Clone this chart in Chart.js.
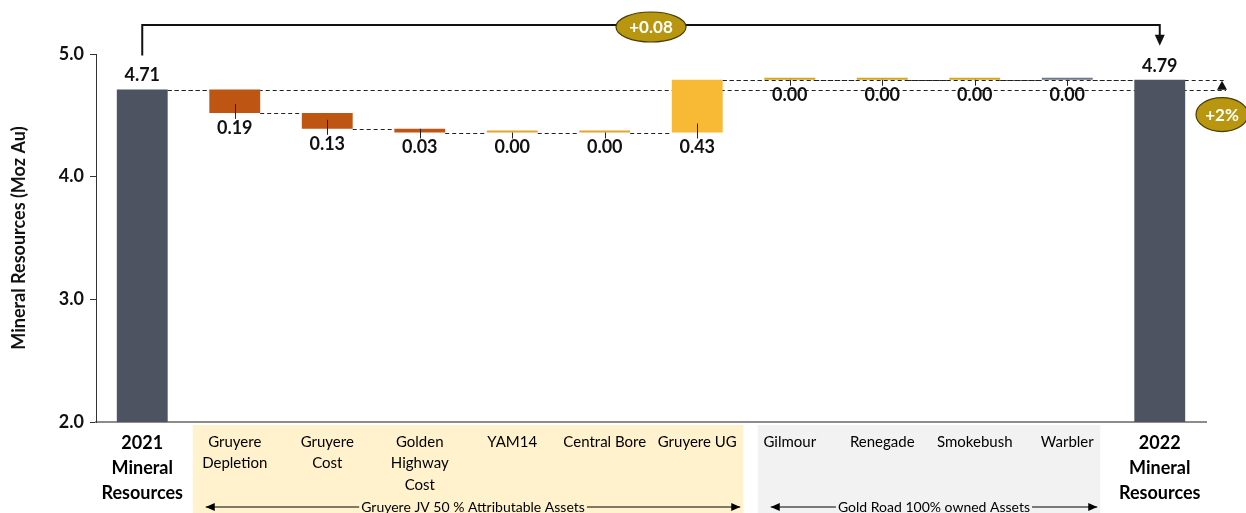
<!DOCTYPE html>
<html>
<head>
<meta charset="utf-8">
<script src="https://cdn.jsdelivr.net/npm/chart.js@4/dist/chart.umd.min.js"></script>
<style>
body { margin: 0; background: #fff; }
#wrap { width: 1246px; height: 513px; }
</style>
</head>
<body>
<div id="wrap"><canvas id="grafico"></canvas></div>
<script>
const categorias = [["2021", "Mineral", "Resources"], ["Gruyere", "Depletion"], ["Gruyere", "Cost"], ["Golden", "Highway", "Cost"], ["YAM14"], ["Central Bore"], ["Gruyere UG"], ["Gilmour"], ["Renegade"], ["Smokebush"], ["Warbler"], ["2022", "Mineral", "Resources"]];
const inicio = 4.71;
const cambios = [-0.19, -0.13, -0.03, 0.00, 0.00, 0.43, 0.00, 0.00, 0.00, 0.00];
const final = 4.79;
const ticksY = [2.0, 3.0, 4.0, 5.0];
const textoDiferencia = "+0.08";
const textoPorcentaje = "+2%";
const grupos = [
    { texto: "Gruyere JV 50 % Attributable Assets", desde: 1, hasta: 6 },
    { texto: "Gold Road 100% owned Assets", desde: 7, hasta: 10 }
];

const FUENTE = "Lato, 'Open Sans', sans-serif";
const colores = ['#4D5360', '#BF5513', '#BF5513', '#BF5513', '#E3A52A', '#E3A52A', '#F8B935', '#D4A419', '#D4A419', '#D4A419', '#6C7686', '#4D5360'];

// barras flotantes [bajo, alto] a partir de los cambios
const barras = [[2.0, inicio]];
const niveles = [inicio];
let acum = inicio;
cambios.forEach(c => {
    const nuevo = +(acum + c).toFixed(2);
    barras.push([Math.min(acum, nuevo), Math.max(acum, nuevo)]);
    niveles.push(nuevo);
    acum = nuevo;
});
barras.push([2.0, final]);
niveles.push(final);

function flecha(ctx, x, y, dir, w, h) {
    ctx.beginPath();
    if (dir === 'up') { ctx.moveTo(x, y); ctx.lineTo(x - w, y + h); ctx.lineTo(x + w, y + h); }
    if (dir === 'down') { ctx.moveTo(x, y); ctx.lineTo(x - w, y - h); ctx.lineTo(x + w, y - h); }
    if (dir === 'left') { ctx.moveTo(x, y); ctx.lineTo(x + h, y - w); ctx.lineTo(x + h, y + w); }
    if (dir === 'right') { ctx.moveTo(x, y); ctx.lineTo(x - h, y - w); ctx.lineTo(x - h, y + w); }
    ctx.closePath();
    ctx.fill();
}

function burbuja(ctx, x, y, rx, ry, texto) {
    ctx.save();
    ctx.beginPath();
    ctx.ellipse(x, y, rx, ry, 0, 0, Math.PI * 2);
    ctx.fillStyle = '#B8960F';
    ctx.fill();
    ctx.lineWidth = 1.2;
    ctx.strokeStyle = '#4a3c00';
    ctx.stroke();
    ctx.fillStyle = '#fff';
    ctx.font = "bold 17px " + FUENTE;
    ctx.textAlign = 'center';
    ctx.textBaseline = 'middle';
    ctx.fillText(texto, x, y + 1);
    ctx.restore();
}

const extras = {
    id: 'extras',
    beforeDraw(chart) {
        const ctx = chart.ctx;
        const x = chart.scales.x;
        const area = chart.chartArea;
        const fondos = ['#FFF2CC', '#F2F2F2'];
        const margenes = [[42, 46], [32, 33]];
        grupos.forEach((g, k) => {
            const x0 = x.getPixelForValue(g.desde) - margenes[k][0];
            const x1 = x.getPixelForValue(g.hasta) + margenes[k][1];
            ctx.fillStyle = fondos[k];
            ctx.fillRect(x0, area.bottom + 3, x1 - x0, chart.height - area.bottom - 3);
            // flecha doble con texto
            const yl = chart.height - 6;
            const a0 = x0 + 13, a1 = x1 - 3;
            ctx.save();
            ctx.font = "14px " + FUENTE;
            ctx.fillStyle = '#000';
            ctx.strokeStyle = '#000';
            ctx.lineWidth = 1.2;
            const tw = ctx.measureText(g.texto).width;
            const cx = (a0 + a1) / 2;
            ctx.beginPath();
            ctx.moveTo(a0, yl); ctx.lineTo(cx - tw / 2 - 2, yl);
            ctx.moveTo(cx + tw / 2 + 2, yl); ctx.lineTo(a1, yl);
            ctx.stroke();
            flecha(ctx, a0, yl, 'left', 4, 9);
            flecha(ctx, a1, yl, 'right', 4, 9);
            ctx.textAlign = 'center';
            ctx.textBaseline = 'middle';
            ctx.fillText(g.texto, cx, yl);
            ctx.restore();
        });
    },
    beforeDatasetsDraw(chart) {
        const ctx = chart.ctx;
        const y = chart.scales.y;
        const meta = chart.getDatasetMeta(0);
        const area = chart.chartArea;
        ctx.save();
        ctx.strokeStyle = '#222';
        ctx.lineWidth = 1;
        ctx.setLineDash([4, 3]);
        ctx.beginPath();
        for (let i = 0; i < categorias.length - 1; i++) {
            const yy = Math.round(y.getPixelForValue(niveles[i])) + 0.5;
            ctx.moveTo(meta.data[i].x + meta.data[i].width / 2, yy);
            ctx.lineTo(meta.data[i + 1].x - meta.data[i + 1].width / 2, yy);
        }
        // lineas largas hacia la derecha
        const yIni = Math.round(y.getPixelForValue(inicio)) + 0.5;
        const yFin = Math.round(y.getPixelForValue(final)) + 0.5;
        ctx.moveTo(meta.data[0].x + meta.data[0].width / 2, yIni);
        ctx.lineTo(area.right + 20, yIni);
        ctx.moveTo(meta.data[6].x + meta.data[6].width / 2, yFin);
        ctx.lineTo(area.right + 20, yFin);
        ctx.stroke();
        ctx.restore();
    },
    afterDatasetsDraw(chart) {
        const ctx = chart.ctx;
        const y = chart.scales.y;
        const meta = chart.getDatasetMeta(0);
        const area = chart.chartArea;
        const ultimo = categorias.length - 1;
        ctx.save();
        ctx.font = "bold 18px " + FUENTE;
        ctx.fillStyle = '#111';
        ctx.textAlign = 'center';
        barras.forEach((b, i) => {
            const cx = meta.data[i].x;
            if (i === 0 || i === ultimo) {
                ctx.textBaseline = 'bottom';
                ctx.fillText(b[1].toFixed(2), cx, y.getPixelForValue(b[1]) - 5);
            } else {
                const fondo = y.getPixelForValue(b[0]);
                const tope = y.getPixelForValue(b[1]);
                ctx.strokeStyle = '#222';
                ctx.lineWidth = 1;
                ctx.beginPath();
                ctx.moveTo(Math.round(cx) + 0.5, Math.max(tope, fondo - 9));
                ctx.lineTo(Math.round(cx) + 0.5, fondo + 6);
                ctx.stroke();
                ctx.textBaseline = 'top';
                ctx.fillText(Math.abs(cambios[i - 1]).toFixed(2), cx, fondo + 6);
            }
        });
        ctx.restore();

        // corchete superior
        const x0 = meta.data[0].x, x1 = meta.data[ultimo].x;
        const yTop = area.top - 29;
        ctx.save();
        ctx.strokeStyle = '#111';
        ctx.fillStyle = '#111';
        ctx.lineWidth = 2;
        ctx.beginPath();
        ctx.moveTo(x0, y.getPixelForValue(inicio) - 34);
        ctx.lineTo(x0, yTop);
        ctx.lineTo(x1, yTop);
        ctx.lineTo(x1, y.getPixelForValue(final) - 44);
        ctx.stroke();
        flecha(ctx, x1, y.getPixelForValue(final) - 34, 'down', 5, 11);

        // flecha derecha
        const xr = area.right + 16;
        ctx.lineWidth = 1;
        flecha(ctx, xr, y.getPixelForValue(final) + 1, 'up', 5, 9);
        ctx.restore();

        burbuja(ctx, (x0 + x1) / 2, yTop + 2, 35, 15, textoDiferencia);
        burbuja(ctx, xr, y.getPixelForValue(inicio) + 25, 26, 17, textoPorcentaje);
    }
};

const grafico = document.getElementById("grafico").getContext("2d");
const myChart = new Chart(grafico, {
    type: 'bar',
    data: {
        labels: categorias,
        datasets: [{
            data: barras,
            backgroundColor: colores,
            borderWidth: 0,
            minBarLength: 2,
            barPercentage: 0.55,
            categoryPercentage: 1
        }]
    },
    options: {
        responsive: true,
        maintainAspectRatio: false,
        animation: false,
        layout: { padding: { top: 54, right: 40, left: 0, bottom: 0 } },
        plugins: { legend: { display: false }, tooltip: { enabled: false } },
        scales: {
            x: {
                grid: { display: false },
                border: { display: true, color: '#8c8c8c', width: 2 },
                ticks: {
                    color: '#000',
                    padding: 1,
                    maxRotation: 0,
                    autoSkip: false,
                    font: (c) => (c.index === 0 || c.index === categorias.length - 1)
                        ? { family: FUENTE, size: 18, weight: 'bold', lineHeight: 1.39 }
                        : { family: FUENTE, size: 15, lineHeight: 1.45 }
                },
                afterFit: (s) => { s.height = 91; }
            },
            y: {
                min: 2,
                max: 5,
                grid: { display: true, drawOnChartArea: false, tickLength: 6, color: '#333' },
                border: { display: true, color: '#333', width: 1 },
                afterBuildTicks: (s) => { s.ticks = ticksY.map(v => ({ value: v })); },
                ticks: {
                    color: '#111',
                    padding: 6,
                    font: { family: FUENTE, size: 18, weight: 'bold' },
                    callback: (v) => Number(v).toFixed(1)
                },
                title: {
                    display: true,
                    text: 'Mineral Resources (Moz Au)',
                    color: '#111',
                    font: { family: FUENTE, size: 18, weight: 'bold' },
                    padding: { top: 8, bottom: 10 }
                },
                afterFit: (s) => { s.width = 96; }
            }
        }
    },
    plugins: [extras]
});
</script>
</body>
</html>
